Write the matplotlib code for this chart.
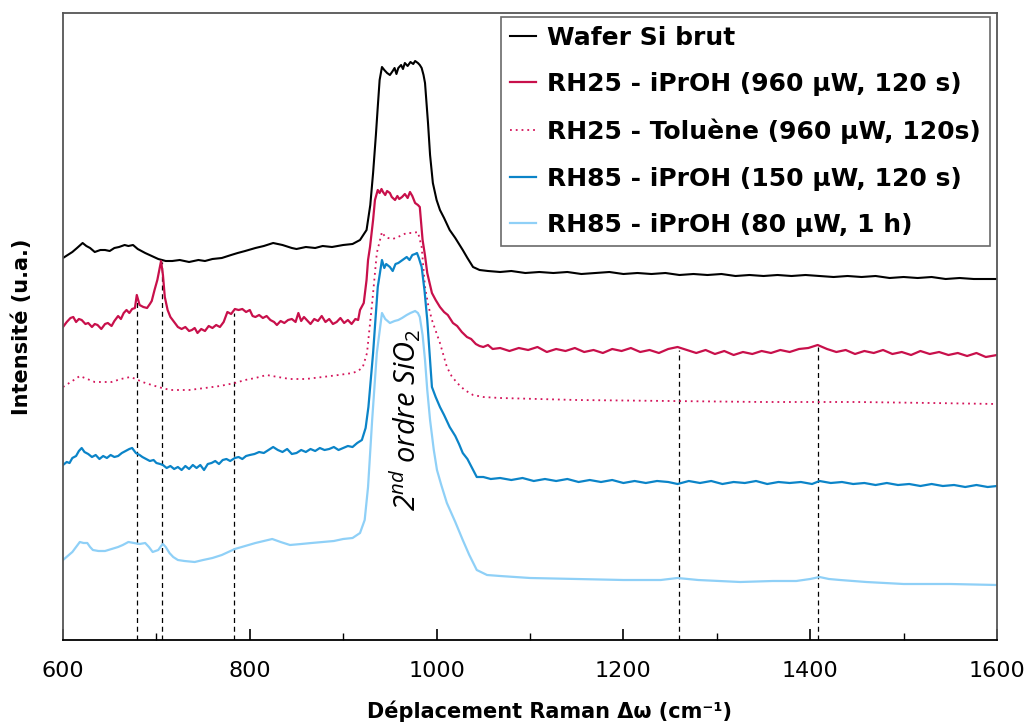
import matplotlib

matplotlib.use("Agg")
import matplotlib.pyplot as plt
from matplotlib.ticker import MultipleLocator

# spectra (intensity in arbitrary units)
wafer_x = [600, 605, 610, 615, 621, 625, 629, 634, 640, 645, 650, 655, 660, 666, 670, 675, 680, 688, 695, 702,
           710, 717, 725, 735, 745, 752, 760, 770, 780, 787, 795, 806, 815, 825, 835, 845, 850, 860, 870, 878,
           888, 900, 910, 918, 925, 929, 932, 935, 937, 939, 941.5, 944, 947, 950, 953, 955, 957, 959, 962, 964,
           966, 969, 972, 975, 977, 980, 982, 984, 986, 987.6, 990.8, 993, 996, 1000, 1003.6, 1008, 1014, 1020,
           1028, 1033, 1039, 1046, 1055, 1068, 1080, 1095, 1110, 1125, 1140, 1155, 1170, 1185, 1200, 1215, 1230,
           1245, 1260, 1275, 1290, 1305, 1320, 1335, 1350, 1365, 1380, 1395, 1410, 1425, 1440, 1455, 1470, 1485,
           1500, 1515, 1530, 1545, 1560, 1575, 1590, 1600]
wafer_y = [382, 385, 388, 392, 397, 394, 392, 388, 390, 390, 389, 392, 393, 395, 394, 395, 391, 387, 384, 381,
           379, 379, 380, 378, 380, 379, 381, 382, 385, 387, 389, 392, 394, 397, 395, 392, 391, 393, 392, 394,
           393, 395, 396, 400, 410, 435, 467, 505, 533, 560, 573, 570, 567, 565, 569, 572, 566, 572, 575, 571,
           577, 574, 578, 576, 579, 577, 575, 572, 565, 557, 517, 485, 457, 440, 430, 422, 410, 402,
           390, 382, 373, 370, 369, 368, 369, 367, 368, 367, 368, 366, 367, 368, 366, 367, 366,
           367, 365, 366, 365, 366, 364, 365, 364, 365, 364, 365, 364, 363, 364, 363, 364, 362,
           363, 362, 363, 361, 362, 361, 361, 361]

rh25_ipr_x = [600, 604, 608, 611, 614, 617, 620, 624, 627, 631, 634, 637, 641, 645, 648, 652, 655, 659, 662, 665,
              668, 671, 674, 677, 679, 682, 686, 690, 693, 695, 698, 701, 705, 707, 709, 712, 715, 719, 723, 727,
              731, 735, 738, 741, 744, 748, 752, 756, 760, 764, 768, 772, 776, 780, 784, 788, 792, 796, 800, 803,
              806, 810, 814, 818, 822, 826, 829, 833, 837, 841, 845, 849, 852, 855, 858, 861, 865, 869, 873, 877,
              881, 885, 889, 893, 897, 901, 905, 909, 913, 916, 918, 922, 925, 926.6, 928.7, 932, 934, 937, 939,
              941, 942.6, 945, 947, 950, 952, 955.5, 958, 960, 963, 966, 969, 971.5, 974, 977, 980, 982, 985,
              987.5, 990, 995, 999, 1003.6, 1008, 1012, 1017.5, 1022, 1027, 1032.5, 1037, 1042, 1046, 1050, 1055,
              1060, 1068, 1078, 1088, 1098, 1108, 1118, 1128, 1138, 1148, 1158, 1168, 1178, 1188, 1198, 1208, 1218,
              1228, 1238, 1248, 1258, 1268, 1278, 1288, 1298, 1308, 1318, 1328, 1338, 1348, 1358, 1368, 1378, 1388,
              1398, 1408, 1418, 1428, 1438, 1448, 1458, 1468, 1478, 1488, 1498, 1508, 1518, 1528, 1538, 1548, 1558,
              1568, 1578, 1588, 1600]
rh25_ipr_y = [313, 318, 322, 323, 318, 321, 320, 316, 317, 313, 316, 315, 311, 316, 317, 314, 319, 324, 321, 327,
              330, 327, 331, 332, 345, 335, 333, 332, 336, 339, 350, 360, 379, 365, 343, 330, 323, 318, 313, 311,
              313, 309, 310, 312, 307, 311, 309, 314, 312, 315, 313, 318, 328, 326, 331, 330, 331, 328, 330, 324,
              323, 325, 322, 324, 320, 318, 315, 319, 317, 320, 321, 318, 327, 319, 323, 320, 316, 321, 319, 324,
              318, 321, 316, 318, 322, 317, 320, 316, 321, 320, 330, 337, 360, 380, 393, 420, 440, 450, 447,
              451, 448, 445, 449, 447, 443, 440, 444, 441, 443, 446, 442, 448, 444, 437, 435, 433, 400,
              385, 367, 347, 340, 333, 328, 325, 317, 314, 308, 303, 301, 296, 294, 293, 295,
              291, 292, 289, 292, 290, 293, 288, 291, 289, 292, 288, 290, 287, 291, 289, 292, 288,
              290, 287, 291, 293, 290, 287, 290, 286, 289, 285, 288, 286, 289, 287, 290, 288, 291,
              292, 295, 291, 288, 290, 286, 289, 287, 290, 286, 288, 285, 289, 286, 288, 285, 287,
              284, 287, 283, 285]

rh25_tol_x = [600, 610, 618, 626, 634, 643, 652, 662, 672, 678, 685, 695, 706, 715, 723, 735, 752, 768, 784, 795,
              806, 818, 830, 843, 860, 878, 895, 910, 916, 921, 925.5, 928, 931, 936, 941.5, 945, 948, 953, 958.7,
              963, 968, 974, 980, 984, 987.6, 991, 995, 1003.6, 1011, 1016, 1022, 1030, 1039, 1050, 1068, 1150,
              1250, 1350, 1450, 1530, 1600]
rh25_tol_y = [253, 259, 264, 261, 258, 258, 258, 261, 263, 261, 258, 255, 252, 250, 250, 250, 252, 254, 257, 260,
              262, 265, 263, 261, 261, 263, 265, 267, 269, 273, 287, 310, 337, 387, 408, 403, 402, 401, 403,
              405, 407, 407, 408, 393, 353, 335, 320, 297, 273, 264, 257, 250, 245, 243, 242, 240,
              239, 238, 238, 237, 236]

rh85_150_x = [600, 604, 607, 610, 614, 617, 620, 623, 627, 631, 635, 639, 643, 647, 651, 655, 659, 663, 667, 671,
              674, 678, 682, 685, 689, 693, 697, 700, 704, 707, 711, 715, 719, 723, 727, 731, 735, 739, 743, 747,
              751, 755, 759, 763, 767, 771, 775, 779, 784, 788, 792, 796, 800, 805, 810, 815, 820, 825, 830, 835,
              840, 845, 850, 855, 860, 865, 870, 875, 880, 885, 890, 895, 900, 905, 910, 915, 920, 924, 927, 932,
              937, 941.5, 944, 946, 950, 953, 956, 959, 962, 965, 968, 971, 974, 977, 979, 981, 984, 987, 990,
              993, 995, 999, 1003.6, 1008, 1014, 1020, 1024, 1028, 1033, 1038, 1043, 1050, 1058, 1068, 1080, 1092,
              1104, 1116, 1128, 1140, 1152, 1164, 1176, 1188, 1200, 1212, 1224, 1236, 1248, 1258, 1270, 1282, 1294,
              1306, 1318, 1330, 1342, 1354, 1366, 1378, 1390, 1402, 1410, 1422, 1434, 1446, 1458, 1470, 1482, 1494,
              1506, 1518, 1530, 1542, 1554, 1566, 1578, 1590, 1600]
rh85_150_y = [175, 178, 177, 182, 184, 189, 192, 188, 186, 183, 185, 181, 184, 182, 185, 183, 184, 187, 189, 191,
              192, 187, 185, 183, 181, 179, 180, 177, 176, 175, 172, 174, 171, 173, 170, 174, 171, 175, 172, 175,
              170, 176, 177, 179, 176, 180, 181, 179, 182, 183, 181, 184, 185, 186, 188, 187, 190, 193, 190, 188,
              191, 186, 187, 190, 188, 191, 189, 192, 190, 191, 193, 190, 192, 194, 193, 197, 200, 212, 233, 287,
              353, 380, 372, 376, 373, 369, 376, 377, 379, 381, 383, 380, 385, 386, 387, 382, 373, 350, 320,
              280, 253, 243, 233, 225, 213, 204, 196, 187, 181, 172, 163, 163, 161, 162, 160, 162,
              159, 161, 159, 161, 158, 160, 158, 160, 157, 159, 157, 159, 158, 156, 159, 157, 159,
              156, 158, 157, 159, 156, 158, 157, 158, 156, 159, 157, 158, 156, 157, 155, 157, 155,
              156, 154, 156, 154, 155, 153, 155, 153, 154]

rh85_80_x = [600, 605, 610, 614, 618, 622, 626, 629, 632, 638, 645, 652, 659, 664, 670, 676, 682, 688, 692, 696,
             699, 702, 705, 707, 710, 714, 718, 723, 730, 741, 750, 760, 770, 784, 795, 806, 815, 824, 833, 843,
             855, 866, 878, 890, 900, 910, 918, 923, 926.6, 931, 936, 941.5, 945, 950, 955, 959, 963, 968, 972,
             977, 980, 982, 985, 987.6, 990, 993, 997, 1000.4, 1005, 1011, 1020, 1028, 1035, 1043, 1054, 1068,
             1100, 1150, 1200, 1240, 1258, 1280, 1325, 1360, 1385, 1400, 1410, 1420, 1432, 1460, 1500, 1550, 1600]
rh85_80_y = [80, 84, 88, 93, 98, 97, 97, 93, 90, 89, 89, 91, 93, 95, 98, 97, 96, 97, 93, 88,
             89, 90, 94, 96, 93, 87, 83, 80, 79, 78, 80, 82, 85, 91, 94, 97, 99, 101, 98, 95,
             96, 97, 98, 99, 101, 102, 107, 120, 153, 220, 287, 327, 321, 317, 319, 320, 322, 325, 327,
             329, 327, 323, 305, 280, 250, 220, 190, 170, 155, 137, 118, 100, 85, 70, 65, 64,
             62, 61, 60, 60, 62, 60, 58, 59, 59, 61, 63, 61, 60, 58, 56, 56, 55]

# marker lines: position and height
marker_x = [679, 706, 783, 1259, 1408]
marker_top = [338, 378, 327, 290, 293]

labels = ["Wafer Si brut",
          "RH25 - iPrOH (960 µW, 120 s)",
          "RH25 - Toluène (960 µW, 120s)",
          "RH85 - iPrOH (150 µW, 120 s)",
          "RH85 - iPrOH (80 µW, 1 h)"]

plt.rcParams["mathtext.default"] = "it"
plt.rcParams["mathtext.fontset"] = "custom"
plt.rcParams["mathtext.it"] = "Open Sans:italic"
plt.rcParams["mathtext.rm"] = "Open Sans"

fig = plt.figure(figsize=(10.26, 7.25), dpi=100)
ax = fig.add_axes([63 / 1026, 85 / 725, 934 / 1026, 627 / 725])

ax.vlines(marker_x, 0, marker_top, colors="black", linestyles=(0, (4, 3)), lw=0.9, zorder=1)

ax.plot(wafer_x, wafer_y, color="black", lw=1.5, label=labels[0])
ax.plot(rh25_ipr_x, rh25_ipr_y, color="#C8104B", lw=1.6, label=labels[1])
ax.plot(rh25_tol_x, rh25_tol_y, color="#D4145A", lw=1.3, ls=(0, (1, 2.2)), label=labels[2])
ax.plot(rh85_150_x, rh85_150_y, color="#0B84C8", lw=1.6, label=labels[3])
ax.plot(rh85_80_x, rh85_80_y, color="#8FD0F7", lw=1.6, label=labels[4])

ax.text(967, 220, "2$^{nd}$ ordre SiO$_2$", rotation=90, ha="center", va="center",
        fontsize=21, style="italic", family="Open Sans")

ax.set_xlim(600, 1600)
ax.set_ylim(0, 627)
ax.xaxis.set_major_locator(MultipleLocator(200))
ax.xaxis.set_minor_locator(MultipleLocator(100))
ax.tick_params(axis="x", which="major", direction="in", length=8, width=1.2, pad=15, labelsize=16)
ax.tick_params(axis="x", which="minor", direction="in", length=5, width=1)
ax.set_yticks([])
for s in ax.spines.values():
    s.set_color("#555555")
    s.set_linewidth(1.3)
ax.spines["bottom"].set_color("black")

ax.set_xlabel("Déplacement Raman Δω (cm⁻¹)", fontsize=15, fontweight="bold")
ax.xaxis.set_label_coords(0.521, -0.097)
ax.set_ylabel("Intensité (u.a.)", fontsize=15, fontweight="bold", labelpad=22)

leg = ax.legend(loc="upper right", bbox_to_anchor=(0.9925, 0.994),
                prop={"weight": "bold", "size": 18}, frameon=True, fancybox=False,
                edgecolor="#444444", handlelength=1.05, handletextpad=0.45, labelspacing=0.9,
                borderpad=0.35, borderaxespad=0)
leg.get_frame().set_linewidth(1.2)

fig.savefig("out.png", dpi=100)
